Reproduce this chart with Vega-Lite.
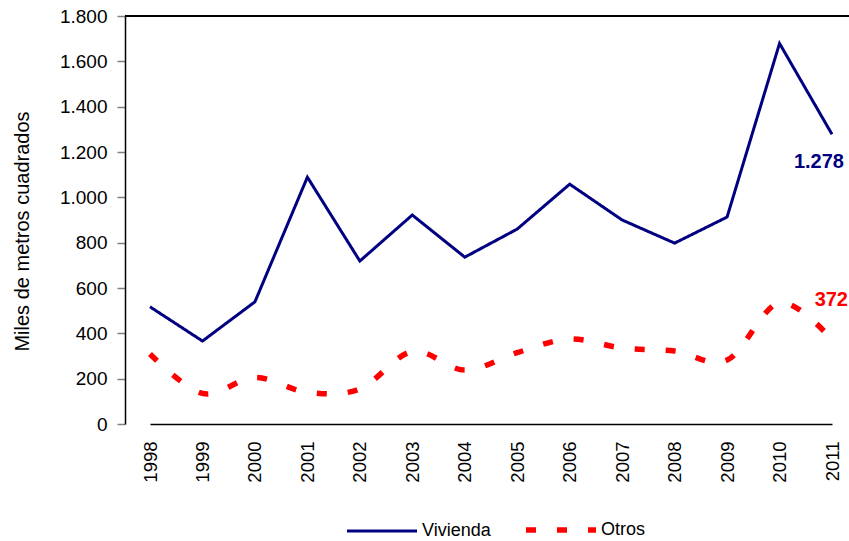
{
  "$schema": "https://vega.github.io/schema/vega-lite/v6.json",
  "width": 724,
  "height": 408,
  "autosize": "none",
  "padding": {"left": 125, "top": 16, "right": 0, "bottom": 117},
  "background": "white",
  "config": {
    "font": "Liberation Sans",
    "view": {"stroke": null},
    "locale": {"number": {"decimal": ",", "thousands": ".", "grouping": [3], "currency": ["", " €"]}},
    "axis": {"grid": false, "domainColor": "black", "domainWidth": 1.5, "labelColor": "black", "titleColor": "black", "labelFont": "Liberation Sans", "titleFont": "Liberation Sans", "titleFontWeight": "normal"}
  },
  "data": {
    "values": [
      {"year": "1998", "series": "Vivienda", "value": 517},
      {"year": "1999", "series": "Vivienda", "value": 366},
      {"year": "2000", "series": "Vivienda", "value": 539},
      {"year": "2001", "series": "Vivienda", "value": 1089},
      {"year": "2002", "series": "Vivienda", "value": 719},
      {"year": "2003", "series": "Vivienda", "value": 922},
      {"year": "2004", "series": "Vivienda", "value": 736},
      {"year": "2005", "series": "Vivienda", "value": 860},
      {"year": "2006", "series": "Vivienda", "value": 1058},
      {"year": "2007", "series": "Vivienda", "value": 900},
      {"year": "2008", "series": "Vivienda", "value": 798},
      {"year": "2009", "series": "Vivienda", "value": 913},
      {"year": "2010", "series": "Vivienda", "value": 1679},
      {"year": "2011", "series": "Vivienda", "value": 1278},
      {"year": "1998", "series": "Otros", "value": 309},
      {"year": "1999", "series": "Otros", "value": 135},
      {"year": "2000", "series": "Otros", "value": 205},
      {"year": "2001", "series": "Otros", "value": 140},
      {"year": "2002", "series": "Otros", "value": 155},
      {"year": "2003", "series": "Otros", "value": 320},
      {"year": "2004", "series": "Otros", "value": 238},
      {"year": "2005", "series": "Otros", "value": 315},
      {"year": "2006", "series": "Otros", "value": 375},
      {"year": "2007", "series": "Otros", "value": 335},
      {"year": "2008", "series": "Otros", "value": 322},
      {"year": "2009", "series": "Otros", "value": 282},
      {"year": "2010", "series": "Otros", "value": 535},
      {"year": "2011", "series": "Otros", "value": 372}
    ]
  },
  "layer": [
    {
      "mark": {"type": "rule", "color": "black", "strokeWidth": 1.5},
      "encoding": {
        "y": {"datum": 1800, "type": "quantitative", "scale": {"domain": [0, 1800], "nice": false}}
      }
    },
    {
      "transform": [{"filter": "datum.series === 'Vivienda'"}],
      "mark": {"type": "line", "strokeWidth": 3, "interpolate": "linear"},
      "encoding": {
        "x": {"field": "year", "type": "ordinal", "scale": {"type": "point", "range": [25, 707], "padding": 0},
              "axis": {"title": null, "labelAngle": 270, "ticks": false, "labelPadding": 17, "labelFontSize": 18.5, "domainColor": "black"}},
        "y": {"field": "value", "type": "quantitative", "scale": {"domain": [0, 1800], "nice": false},
              "axis": {"title": "Miles de metros cuadrados", "values": [0, 200, 400, 600, 800, 1000, 1200, 1400, 1600, 1800], "format": ",d", "labelFontSize": 19, "tickSize": 8, "tickColor": "#808080", "tickWidth": 1.5, "labelPadding": 10, "titleFontSize": 20, "titlePadding": 27, "titleY": 215}},
        "color": {"field": "series", "type": "nominal", "scale": {"domain": ["Vivienda", "Otros"], "range": ["#000080", "#FF0000"]},
                  "legend": {"orient": "none", "legendX": 248, "legendY": 505, "direction": "horizontal", "title": null, "symbolType": "stroke", "symbolSize": 4900, "labelFontSize": 18, "labelOffset": 31, "columnPadding": 24, "padding": 0, "labelColor": "black",
                             "symbolStrokeWidth": 3,
                             "encode": {"symbols": {"update": {"strokeWidth": {"signal": "datum.value === 'Otros' ? 5.5 : 3"}}}}}},
        "strokeDash": {"field": "series", "type": "nominal", "scale": {"domain": ["Vivienda", "Otros"], "range": [[1, 0], [10, 21]]}}
      }
    },
    {
      "transform": [{"filter": "datum.series === 'Otros'"}],
      "mark": {"type": "line", "strokeWidth": 5.5, "interpolate": "cardinal"},
      "encoding": {
        "x": {"field": "year", "type": "ordinal", "scale": {"type": "point", "range": [25, 707], "padding": 0}},
        "y": {"field": "value", "type": "quantitative"},
        "color": {"field": "series", "type": "nominal"},
        "strokeDash": {"field": "series", "type": "nominal"}
      }
    },
    {
      "transform": [{"filter": "datum.series === 'Vivienda' && datum.year === '2011'"}],
      "mark": {"type": "text", "fontSize": 20, "fontWeight": "bold", "color": "#000080", "align": "right", "baseline": "middle", "dx": 12, "dy": 28},
      "encoding": {
        "x": {"field": "year", "type": "ordinal"},
        "y": {"field": "value", "type": "quantitative"},
        "text": {"field": "value", "type": "quantitative", "format": ",d"}
      }
    },
    {
      "transform": [{"filter": "datum.series === 'Otros' && datum.year === '2011'"}],
      "mark": {"type": "text", "fontSize": 20, "fontWeight": "bold", "color": "#FF0000", "align": "right", "baseline": "middle", "dx": 16, "dy": -40},
      "encoding": {
        "x": {"field": "year", "type": "ordinal"},
        "y": {"field": "value", "type": "quantitative"},
        "text": {"field": "value", "type": "quantitative", "format": ",d"}
      }
    }
  ]
}
